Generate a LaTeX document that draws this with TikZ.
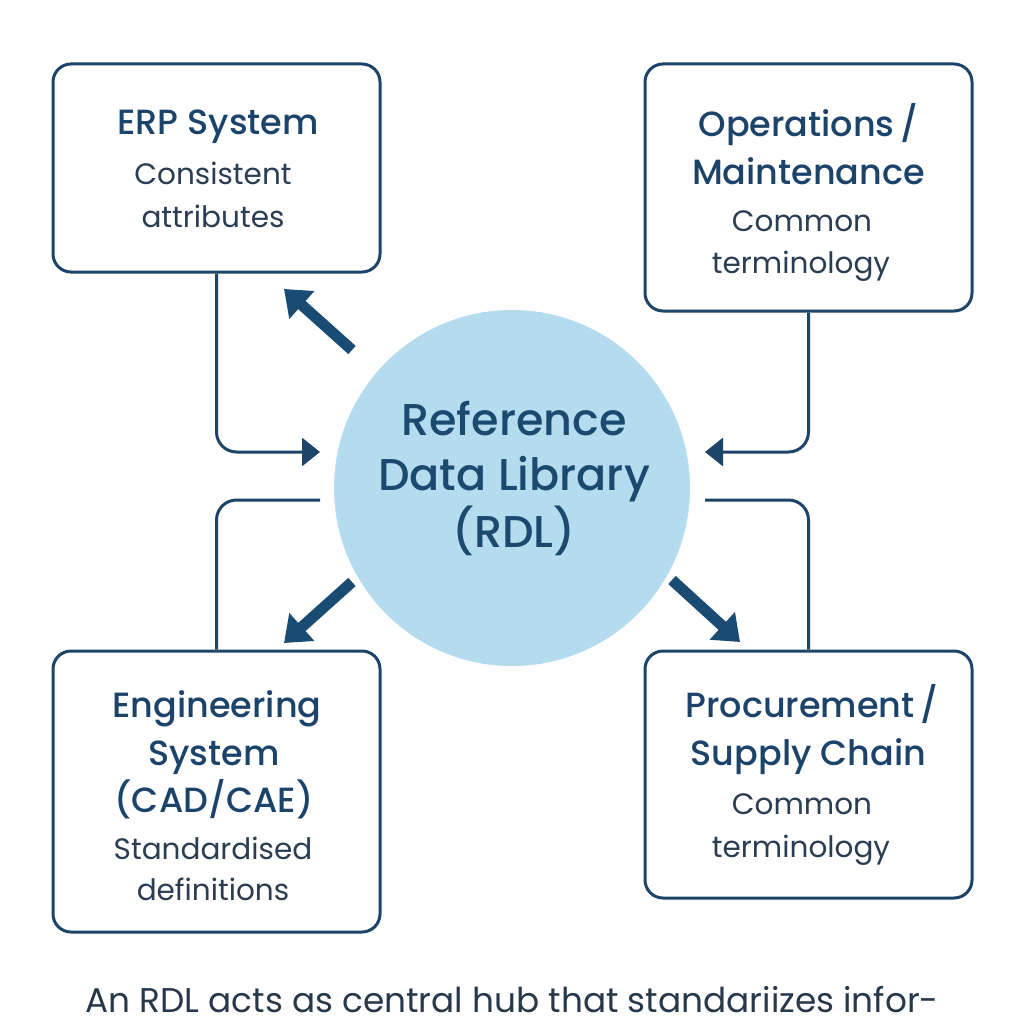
\documentclass[tikz,border=0pt]{standalone}
\usepackage{fontspec}
\setmainfont{Poppins}
\newfontfamily\titlef{Poppins}[UprightFont=* Medium]
\usetikzlibrary{arrows.meta}
\definecolor{boxc}{HTML}{1E4468}
\definecolor{titlec}{HTML}{1C4369}
\definecolor{subc}{HTML}{2B3D52}
\definecolor{hubc}{HTML}{B4DCEE}
\definecolor{hubt}{HTML}{1B4A70}
\definecolor{arrc}{HTML}{1A4B72}
\definecolor{capc}{HTML}{27384A}
\begin{document}
\begin{tikzpicture}[x=1pt,y=-1pt,
  box/.style={draw=boxc,line width=3pt,rounded corners=18pt,minimum width=327pt,inner sep=0pt},
  ttl/.style={anchor=base,text=titlec,font=\titlef\fontsize{35}{40}\selectfont,inner sep=0pt},
  sub/.style={anchor=base,text=subc,font=\fontsize{29.5}{34}\selectfont,inner sep=0pt},
  hubtxt/.style={anchor=base,text=hubt,font=\titlef\fontsize{44.5}{52}\selectfont,inner sep=0pt},
  conn/.style={draw=boxc,line width=3pt,rounded corners=20pt},
  tip/.style={-{Triangle[length=18pt,width=28pt]}},
  fat/.style={draw=arrc,line width=11pt,-{Triangle[length=24pt,width=36pt]}}]
\useasboundingbox[fill=white] (0,0) rectangle (1024,1024);

% hub
\node[circle,fill=hubc,minimum size=356pt,inner sep=0pt] (rdl) at (512,488) {};
\node[hubtxt] (h1) at (514,435) {Reference};
\node[hubtxt] (h2) at (514,490) {Data Library};
\node[hubtxt] (h3) at (514,547) {(RDL)};

% boxes
\node[box,minimum height=208pt] (erp) at (216.5,168) {};
\node[box,minimum height=247pt] (ops) at (808.5,187.5) {};
\node[box,minimum height=281pt] (eng) at (216.5,791.5) {};
\node[box,minimum height=247pt] (proc) at (808.5,774.5) {};

% texts
\node[ttl] (t1) at (218,135) {ERP System};
\node[sub] (s1a) at (213,185) {Consistent};
\node[sub] (s1b) at (213,227) {attributes};

\node[ttl] (t2a) at (808.5,137) {Operations\,/};
\node[ttl] (t2b) at (808.5,185) {Maintenance};
\node[sub] (s2a) at (802,232) {Common};
\node[sub] (s2b) at (801,273) {terminology};

\node[ttl] (t3a) at (217,717) {Engineering};
\node[ttl] (t3b) at (214,765) {System};
\node[ttl] (t3c) at (214,812) {(CAD/CAE)};
\node[sub] (s3a) at (213,859) {Standardised};
\node[sub] (s3b) at (213,900) {definitions};

\node[ttl] (t4a) at (812,717) {Procurement\,/};
\node[ttl] (t4b) at (808.5,765) {Supply Chain};
\node[sub] (s4a) at (802,814) {Common};
\node[sub] (s4b) at (801,857) {terminology};

% connectors
\coordinate (inL) at (320,452);
\coordinate (outL) at (320,500);
\coordinate (inR) at (705,452);
\coordinate (outR) at (705,500);
\draw[conn,tip] (erp.south) |- (inL);
\draw[conn] (outL) -| (eng.north);
\draw[conn,tip] (ops.south) |- (inR);
\draw[conn] (outR) -| (proc.north);

% diagonal arrows
\coordinate (d1s) at (352,350); \coordinate (d1e) at (284,289);
\coordinate (d2s) at (352,582); \coordinate (d2e) at (284,643);
\coordinate (d3s) at (672,580); \coordinate (d3e) at (740,642);
\draw[fat] (d1s) -- (d1e);
\draw[fat] (d2s) -- (d2e);
\draw[fat] (d3s) -- (d3e);

% caption
\node[anchor=base,text=capc,font=\fontsize{34.3}{40}\selectfont,inner sep=0pt] (cap) at (512,1012) {An RDL acts as central hub that standariizes infor-};
\end{tikzpicture}
\end{document}
